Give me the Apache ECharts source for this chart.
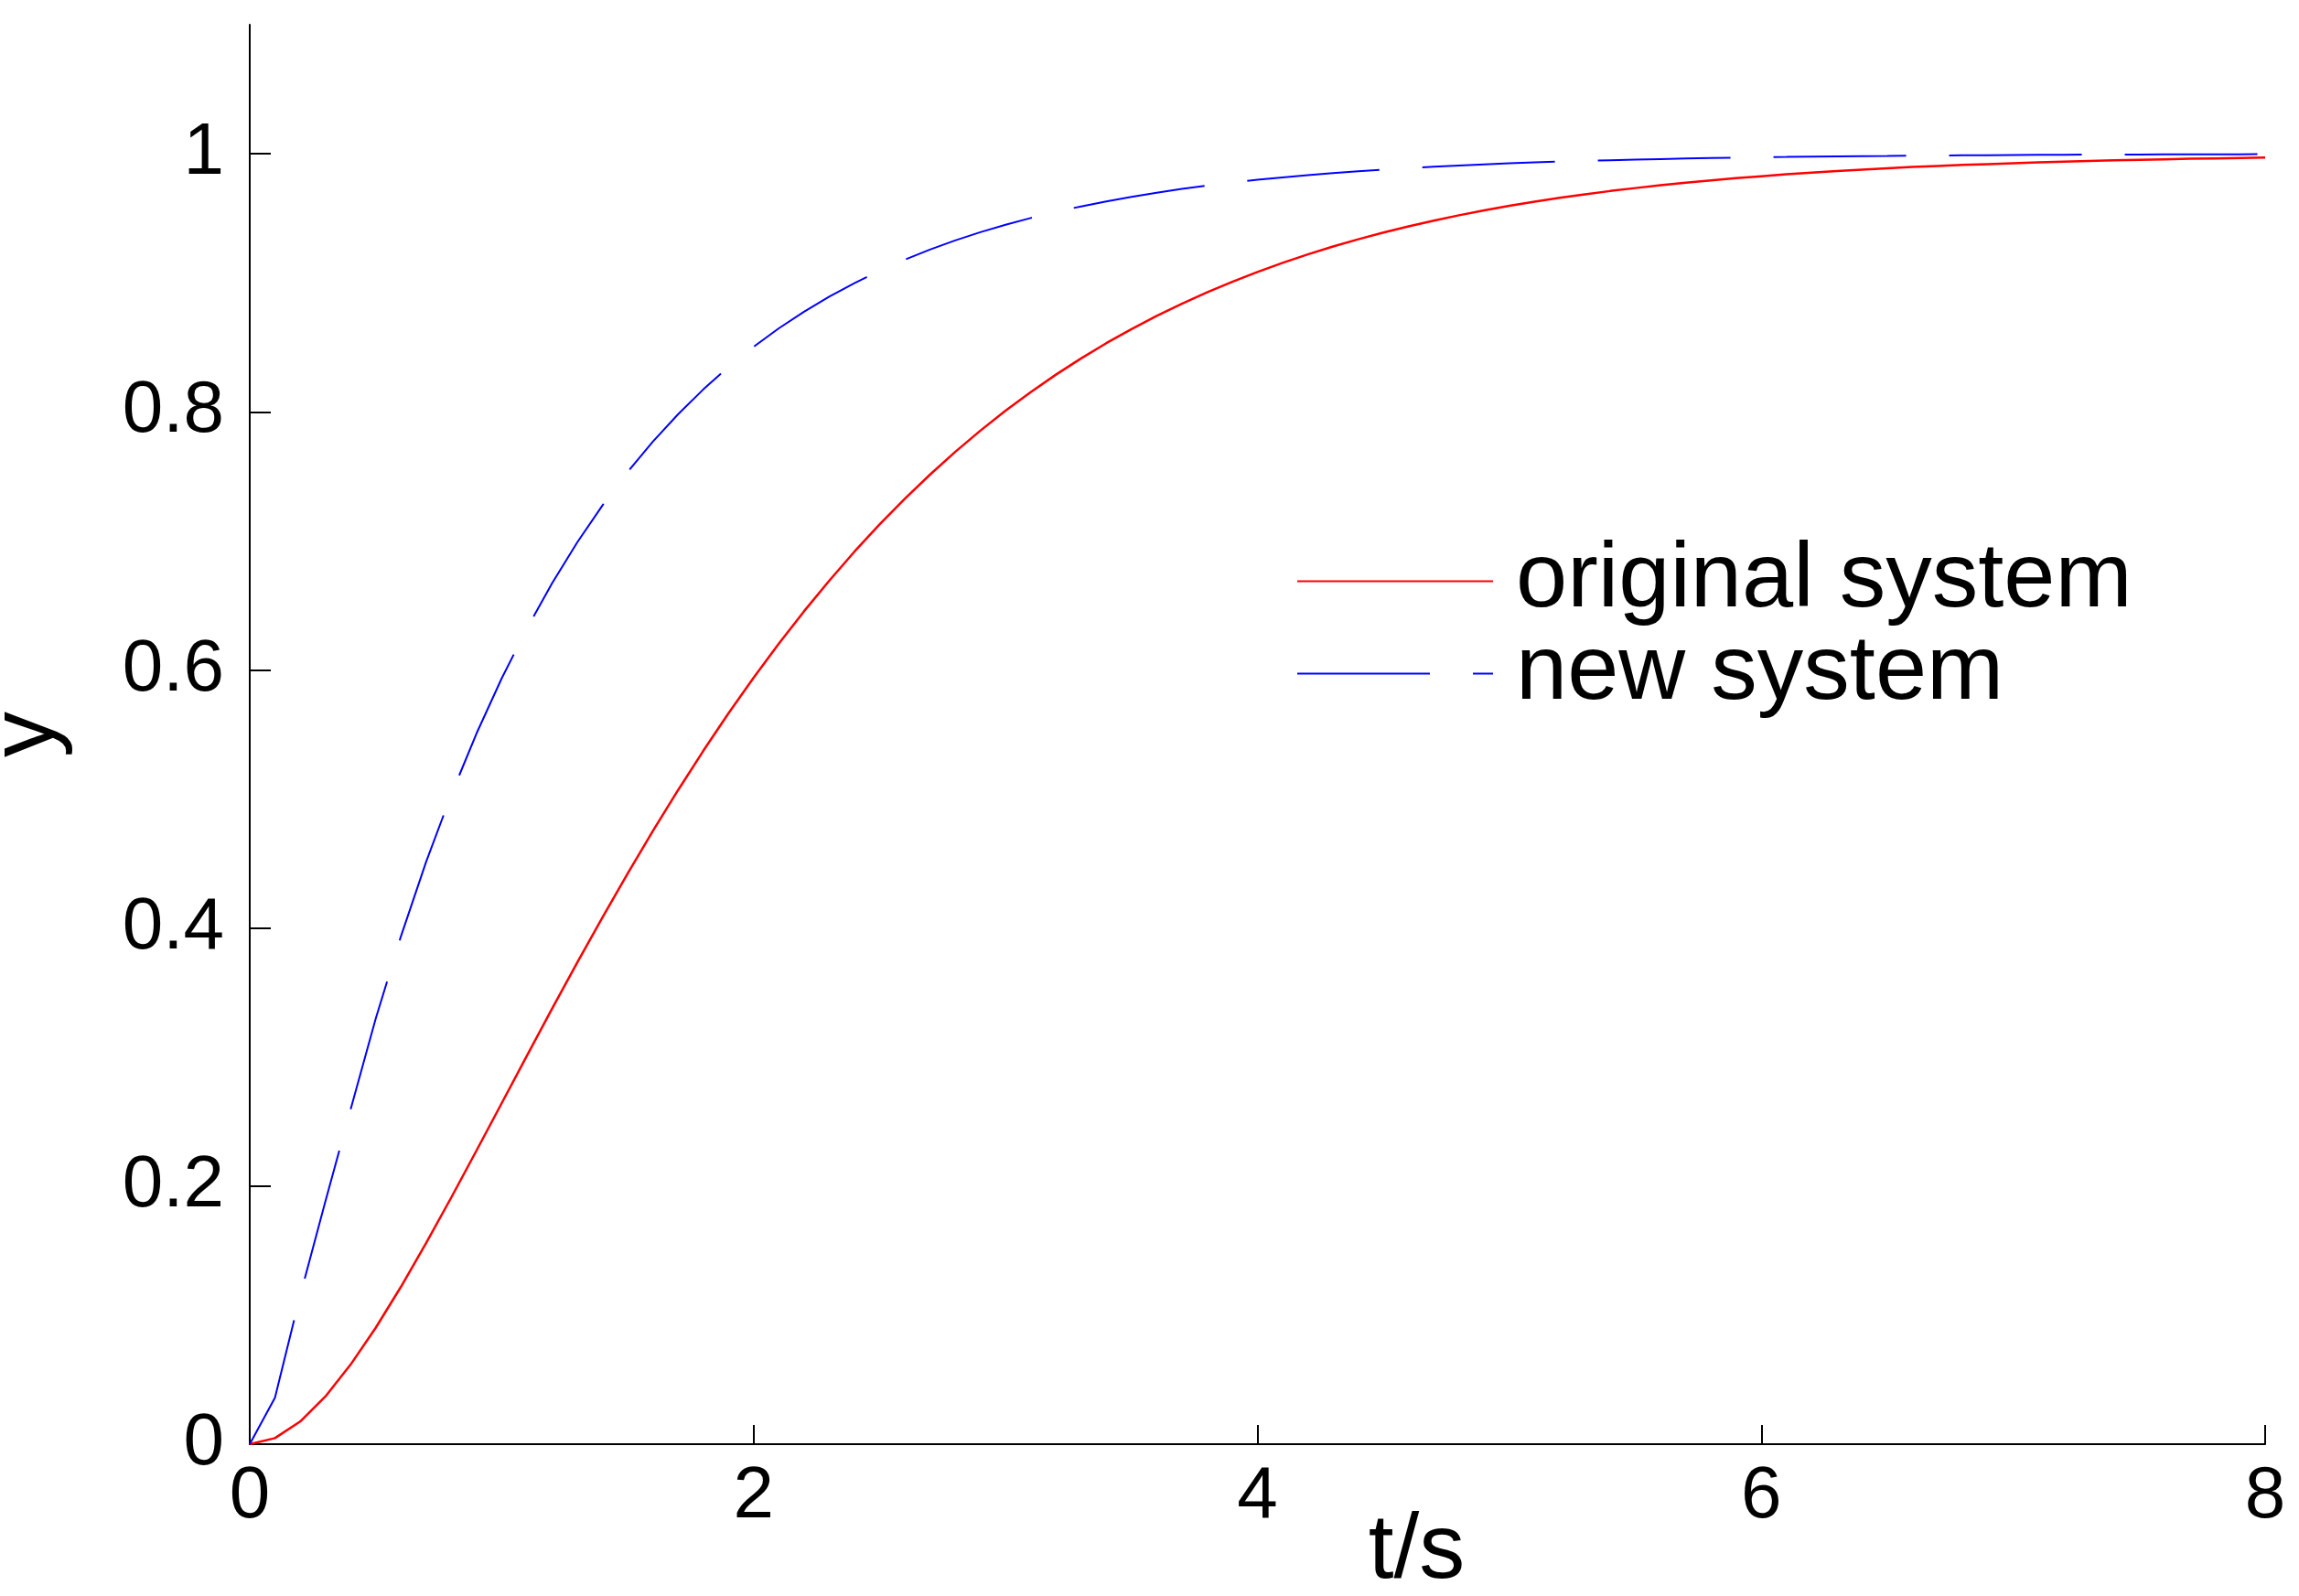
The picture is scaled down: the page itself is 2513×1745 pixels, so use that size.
<!DOCTYPE html>
<html>
<head>
<meta charset="utf-8">
<script src="https://cdn.jsdelivr.net/npm/echarts@6/dist/echarts.min.js"></script>
<style>
  html, body { margin: 0; padding: 0; background: #fff; }
  #chart { width: 2513px; height: 1745px; }
</style>
</head>
<body>
<div id="chart"></div>
<script>
// time samples, 0 .. 8 s every 0.1 s
const time = [
  0, 0.1, 0.2, 0.3, 0.4, 0.5, 0.6, 0.7, 0.8, 0.9,
  1, 1.1, 1.2, 1.3, 1.4, 1.5, 1.6, 1.7, 1.8, 1.9,
  2, 2.1, 2.2, 2.3, 2.4, 2.5, 2.6, 2.7, 2.8, 2.9,
  3, 3.1, 3.2, 3.3, 3.4, 3.5, 3.6, 3.7, 3.8, 3.9,
  4, 4.1, 4.2, 4.3, 4.4, 4.5, 4.6, 4.7, 4.8, 4.9,
  5, 5.1, 5.2, 5.3, 5.4, 5.5, 5.6, 5.7, 5.8, 5.9,
  6, 6.1, 6.2, 6.3, 6.4, 6.5, 6.6, 6.7, 6.8, 6.9,
  7, 7.1, 7.2, 7.3, 7.4, 7.5, 7.6, 7.7, 7.8, 7.9,
  8
];

const originalSystem = [
  0, 0.0047, 0.0175, 0.0369, 0.0616, 0.0902, 0.1219, 0.1558, 0.1912, 0.2275,
  0.2642, 0.3010, 0.3374, 0.3732, 0.4082, 0.4422, 0.4751, 0.5068, 0.5372, 0.5663,
  0.5940, 0.6204, 0.6454, 0.6691, 0.6916, 0.7127, 0.7326, 0.7513, 0.7689, 0.7854,
  0.8009, 0.8153, 0.8288, 0.8414, 0.8532, 0.8641, 0.8743, 0.8838, 0.8926, 0.9008,
  0.9084, 0.9155, 0.9220, 0.9281, 0.9337, 0.9389, 0.9437, 0.9482, 0.9523, 0.9561,
  0.9596, 0.9628, 0.9658, 0.9686, 0.9711, 0.9734, 0.9756, 0.9776, 0.9794, 0.9811,
  0.9826, 0.9841, 0.9854, 0.9866, 0.9877, 0.9887, 0.9897, 0.9905, 0.9913, 0.9920,
  0.9927, 0.9933, 0.9939, 0.9944, 0.9949, 0.9953, 0.9957, 0.9961, 0.9964, 0.9967,
  0.9970
];

const newSystem = [
  0, 0.036, 0.115, 0.188, 0.2592, 0.3297, 0.3935, 0.4512, 0.5034, 0.5507,
  0.5934, 0.6321, 0.6671, 0.6988, 0.7275, 0.7534, 0.7769, 0.7981, 0.8173, 0.8347,
  0.8504, 0.8647, 0.8775, 0.8892, 0.8997, 0.9093, 0.9179, 0.9257, 0.9328, 0.9392,
  0.9450, 0.9502, 0.9550, 0.9592, 0.9631, 0.9666, 0.9698, 0.9727, 0.9753, 0.9776,
  0.9798, 0.9817, 0.9834, 0.9850, 0.9864, 0.9877, 0.9889, 0.9899, 0.9909, 0.9918,
  0.9926, 0.9933, 0.9939, 0.9945, 0.9950, 0.9955, 0.9959, 0.9963, 0.9967, 0.9970,
  0.9973, 0.9975, 0.9978, 0.9980, 0.9982, 0.9983, 0.9985, 0.9986, 0.9988, 0.9989,
  0.9990, 0.9991, 0.9992, 0.9993, 0.9993, 0.9994, 0.9995, 0.9995, 0.9996, 0.9996,
  0.9997
];

const xTicks = [0, 2, 4, 6, 8];
const yTicks = [0, 0.2, 0.4, 0.6, 0.8, 1];

const font = "'Liberation Sans', Arial, sans-serif";
const zip = (xs, ys) => xs.map((x, i) => [x, ys[i]]);

const chart = echarts.init(document.getElementById("chart"));

chart.setOption({
  animation: false,
  backgroundColor: "#fff",
  grid: {
    left: 273, right: 37, top: 27, bottom: 166,
    containLabel: false,
    outerBoundsMode: "none",
  },
  legend: {
    orient: "vertical",
    left: 1412,
    top: 580,
    itemWidth: 214,
    itemHeight: 14,
    itemGap: 0,
    itemStyle: { opacity: 0 },
    textStyle: {
      fontFamily: font,
      fontSize: 101,
      lineHeight: 98,
      color: "#000",
      padding: [0, 0, 0, 20],
    },
    data: ["original system", "new system"],
  },
  xAxis: {
    type: "value",
    min: 0,
    max: 8,
    interval: 2,
    name: "t/s",
    nameLocation: "middle",
    nameGap: 68,
    nameMoveOverlap: false,
    // the label sits right of the axis centre in the original
    nameTextStyle: { fontFamily: font, fontSize: 100, color: "#000", padding: [0, 0, 0, 348] },
    axisLine: { lineStyle: { color: "#000", width: 2 } },
    axisTick: { inside: true, length: 21, lineStyle: { color: "#000", width: 2 } },
    axisLabel: {
      margin: 18,
      fontFamily: font,
      fontSize: 80,
      color: "#000",
      customValues: xTicks,
    },
    splitLine: { show: false },
  },
  yAxis: {
    type: "value",
    min: 0,
    max: 1.1,
    name: "y",
    nameLocation: "middle",
    nameGap: 193,
    nameMoveOverlap: false,
    nameTextStyle: { fontFamily: font, fontSize: 100, color: "#000" },
    axisLine: { lineStyle: { color: "#000", width: 2 } },
    axisTick: {
      inside: true,
      length: 23,
      lineStyle: { color: "#000", width: 2 },
      customValues: yTicks,
    },
    axisLabel: {
      margin: 28,
      fontFamily: font,
      fontSize: 80,
      color: "#000",
      customValues: yTicks,
    },
    splitLine: { show: false },
  },
  series: [
    {
      name: "original system",
      type: "line",
      data: zip(time, originalSystem),
      showSymbol: false,
      symbol: "none",
      smooth: false,
      lineStyle: { color: "#ff0000", width: 2.5 },
      itemStyle: { color: "#ff0000" },
    },
    {
      name: "new system",
      type: "line",
      data: zip(time, newSystem),
      showSymbol: false,
      symbol: "none",
      smooth: false,
      lineStyle: { color: "#0000ff", width: 2, type: [145, 47] },
      itemStyle: { color: "#0000ff" },
    },
  ],
});
</script>
</body>
</html>
